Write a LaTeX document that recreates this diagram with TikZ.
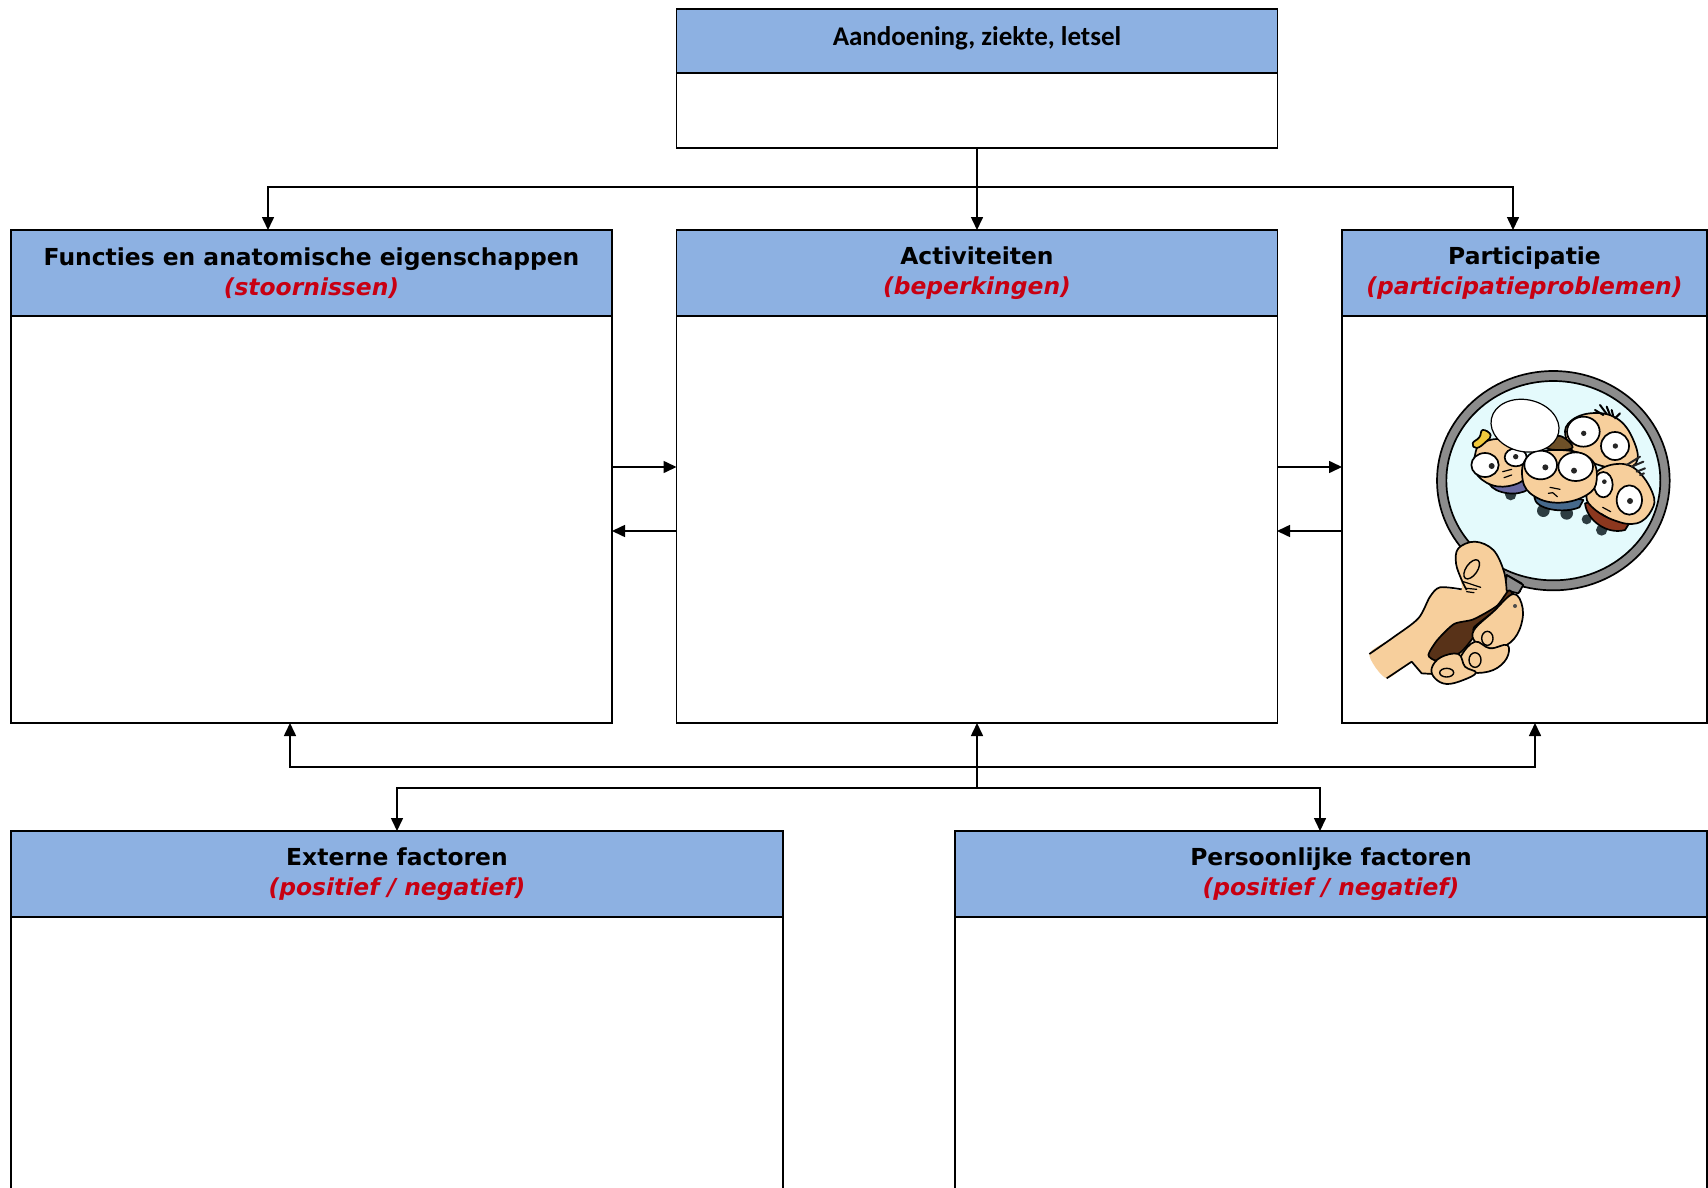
\documentclass[tikz,border=0pt]{standalone}
\usepackage{fontspec}
\setmainfont{DejaVu Sans}
\newfontfamily\topfont{Carlito}
\usetikzlibrary{arrows.meta}
\definecolor{hdrblue}{RGB}{141,177,226}
\definecolor{redtxt}{RGB}{200,0,18}
\definecolor{lens}{RGB}{228,250,252}
\definecolor{ringgray}{RGB}{140,140,140}
\definecolor{skin}{RGB}{247,207,156}
\definecolor{gripbrown}{RGB}{88,50,24}
\definecolor{shirtpurple}{RGB}{104,104,160}
\definecolor{shirtblue}{RGB}{70,105,140}
\definecolor{shirtred}{RGB}{140,55,30}
\definecolor{hairbrown}{RGB}{110,80,40}
\definecolor{hairyellow}{RGB}{240,200,60}
\definecolor{footdark}{RGB}{45,60,65}
\tikzset{
  hdrbox/.style={draw=black,fill=hdrblue,line width=0.8pt,inner sep=0pt,outer sep=0pt,align=center,
     font=\fontsize{11.7}{14.7}\selectfont\bfseries},
  bodybox/.style={draw=black,fill=white,line width=0.8pt,inner sep=0pt,outer sep=0pt},
  conn/.style={draw=black,line width=0.8pt},
  arr/.style={conn,-{Triangle[length=6.5pt,width=6pt]}},
  ink/.style={draw=black,line width=0.85pt,line join=round},
  thin ink/.style={draw=black,line width=0.6pt,line cap=round},
  eye/.style={ink,fill=white},
  pupil/.style={fill=black!85},
}
\newcommand{\rtxt}[1]{{\color{redtxt}\itshape #1}}
\begin{document}
\begin{tikzpicture}[x=0.5pt,y=-0.5pt]
\clip (0,0) rectangle (1708,1188);
% boxes
\node[hdrbox,minimum width=300.5pt,minimum height=32pt,font=\fontsize{13.5}{15}\selectfont\bfseries\topfont] (tophead) at (977,41) {\raisebox{4.6pt}{Aandoening, ziekte, letsel}};
\node[bodybox,minimum width=300.5pt,minimum height=37.5pt] (topbody) at (977,110.5) {};
\node[hdrbox,minimum width=300.5pt,minimum height=43pt] (funchead) at (311.5,273) {Functies en anatomische eigenschappen\\\rtxt{(stoornissen)}};
\node[bodybox,minimum width=300.5pt,minimum height=203.5pt] (funcbody) at (311.5,519.5) {};
\node[hdrbox,minimum width=300.5pt,minimum height=43pt] (acthead) at (977,273) {Activiteiten\\\rtxt{(beperkingen)}};
\node[bodybox,minimum width=300.5pt,minimum height=203.5pt] (actbody) at (977,519.5) {};
\node[hdrbox,minimum width=182.5pt,minimum height=43pt] (parthead) at (1524.5,273) {Participatie\\\rtxt{(participatieproblemen)}};
\node[bodybox,minimum width=182.5pt,minimum height=203.5pt] (partbody) at (1524.5,519.5) {};
\node[hdrbox,minimum width=386pt,minimum height=43pt] (exthead) at (397,874) {Externe factoren\\\rtxt{(positief / negatief)}};
\node[bodybox,minimum width=386pt,minimum height=166.5pt] (extbody) at (397,1083.5) {};
\node[hdrbox,minimum width=376pt,minimum height=43pt] (pershead) at (1331,874) {Persoonlijke factoren\\\rtxt{(positief / negatief)}};
\node[bodybox,minimum width=376pt,minimum height=166.5pt] (persbody) at (1331,1083.5) {};
% connector points
\coordinate (jtop) at (topbody.south |- 0,187);
\coordinate (funcin) at (268,230);
\coordinate (partin) at (1513,230);
\coordinate (jup) at (actbody.south |- 0,767);
\coordinate (jdown) at (actbody.south |- 0,788);
\coordinate (funcup) at (290,723);
\coordinate (partup) at (1535,723);
\coordinate (persin) at (1320,831);
\coordinate (fa1) at (612,467);
\coordinate (af1) at (676.5,467);
\coordinate (af2) at (676.5,531);
\coordinate (fa2) at (612,531);
\coordinate (ap1) at (1277,467);
\coordinate (pa1) at (1342,467);
\coordinate (pa2) at (1342,531);
\coordinate (ap2) at (1277,531);
% connectors
\draw[arr] (topbody.south) -- (acthead.north);
\draw[arr] (jtop) -| (funcin);
\draw[arr] (jtop) -| (partin);
\draw[arr] (fa1) -- (af1);
\draw[arr] (af2) -- (fa2);
\draw[arr] (ap1) -- (pa1);
\draw[arr] (pa2) -- (ap2);
\draw[arr] (jdown) -- (actbody.south);
\draw[arr] (jup) -| (funcup);
\draw[arr] (jup) -| (partup);
\draw[arr] (jdown) -| (exthead.north);
\draw[arr] (jdown) -| (persin);
% magnifying glass
\begin{scope}[shift={(1420,360)},x=0.16667pt,y=-0.16667pt]
  \draw[ink,fill=ringgray] (400,362) ellipse [x radius=349,y radius=329];
  \draw[ink,fill=lens] (400,362) ellipse [x radius=321,y radius=299];
  % left figure
  \fill[footdark] (272,404) circle (17);
  \draw[ink,fill=shirtpurple] (208,372) .. controls (225,402) and (295,410) .. (325,388) -- (300,350) -- cycle;
  \draw[ink,fill=skin] plot[smooth cycle,tension=.7] coordinates {(185,250) (250,240) (310,290) (320,345) (280,375) (215,375) (165,335) (165,285)};
  \draw[ink,fill=hairyellow] plot[smooth cycle,tension=.8] coordinates {(158,250) (178,232) (188,210) (212,225) (198,245) (170,264)};
  \draw[eye] (195,315) ellipse [x radius=41,y radius=36];
  \fill[pupil] (215,318) circle (9);
  \draw[eye] (287,292) ellipse [x radius=33,y radius=27];
  \fill[pupil] (287,290) circle (8);
  \draw[thin ink] (248,335) -- (275,328) (252,353) -- (275,345);
  % top right figure
  \draw[ink,fill=skin] plot[smooth cycle,tension=.7] coordinates {(445,190) (510,160) (590,175) (640,240) (648,310) (580,325) (480,290) (440,240)};
  \draw[thin ink,line width=1pt] (525,150) -- (550,165) (540,135) -- (560,162) (560,140) -- (570,165) (575,150) -- (580,170) (600,160) -- (585,175);
  \draw[eye] (490,215) ellipse [x radius=49,y radius=45];
  \fill[pupil] (491,220) circle (8);
  \draw[eye] (585,258) ellipse [x radius=42,y radius=42];
  \fill[pupil] (586,258) circle (8);
  % lower right figure
  \fill[footdark] (545,510) circle (17);
  \fill[footdark] (500,478) circle (15);
  \draw[ink,fill=shirtred] (495,430) .. controls (500,480) and (560,525) .. (615,510) -- (640,470) -- (540,420) -- cycle;
  \draw[ink,fill=skin] plot[smooth cycle,tension=.7] coordinates {(525,340) (590,312) (650,330) (698,400) (695,450) (650,490) (580,480) (515,440) (500,400)};
  \draw[line width=1pt,draw=black!85,line cap=round] (620,315) -- (660,290) (635,320) -- (670,305) (650,335) -- (675,325) (660,345) -- (672,340);
  \draw[eye] (550,374) ellipse [x radius=28,y radius=38];
  \fill[pupil] (553,365) circle (7);
  \draw[eye] (628,420) ellipse [x radius=38,y radius=44];
  \fill[pupil] (630,423) circle (9);
  \draw[thin ink] (548,442) -- (572,455) (542,460) -- (562,472);
  % centre figure
  \fill[footdark] (370,452) circle (19);
  \fill[footdark] (440,460) circle (19);
  \draw[ink,fill=shirtblue] (343,412) .. controls (345,448) and (430,462) .. (478,442) -- (490,420) -- (400,400) -- cycle;
  \draw[ink,fill=skin] plot[smooth cycle,tension=.7] coordinates {(325,290) (420,270) (510,295) (530,360) (500,405) (420,428) (345,410) (308,360)};
  \draw[ink,fill=hairbrown] plot[smooth cycle,tension=.7] coordinates {(378,262) (405,232) (430,232) (458,262) (420,270)};
  \draw[eye] (362,315) ellipse [x radius=49,y radius=43];
  \fill[pupil] (376,322) circle (9);
  \draw[eye] (467,320) ellipse [x radius=52,y radius=43];
  \fill[pupil] (462,332) circle (9);
  \draw[thin ink] (390,382) -- (420,388) (385,400) -- (398,398) -- (412,410);
  % balloon head
  \draw[ink,fill=white,line width=0.6pt,rotate around={-12:(315,197)}] (315,197) ellipse [x radius=103,y radius=78];
  % handle stub
  \draw[ink,fill=ringgray] (260,645) -- (305,670) -- (300,695) -- (250,690) -- cycle;
\end{scope}
% hand
\begin{scope}[shift={(1350,530)},x=0.16667pt,y=-0.16667pt]
  \draw[ink,fill=ringgray] (470,135) -- (520,165) -- (505,190) -- (465,180) -- cycle;
  % palm and thumb fill
  \fill[skin] plot[smooth cycle,tension=.45] coordinates {(58,372) (130,322) (205,265) (240,200) (270,172) (335,178) (318,100) (325,55) (375,35) (430,60) (462,125) (470,185) (430,240) (300,420) (215,430) (185,395) (110,445)};
  \draw[ink] plot[smooth,tension=.5] coordinates {(58,372) (130,322) (205,265) (240,200) (270,172) (335,178)};
  \draw[ink] plot[smooth,tension=.6] coordinates {(350,180) (335,150) (318,100) (325,55) (375,35) (430,60) (462,125) (470,185)};
  \draw[ink] (110,445) -- (185,395) -- (215,430) -- (250,432);
  % grip
  \draw[ink,fill=gripbrown] plot[smooth cycle,tension=.4] coordinates {(475,182) (440,228) (370,268) (312,282) (262,330) (235,375) (262,392) (330,368) (372,318) (372,292) (432,244) (485,195)};
  % fingers
  \draw[ink,fill=skin] plot[smooth cycle,tension=.65] coordinates {(372,300) (430,245) (490,192) (518,235) (508,300) (470,345) (410,355) (375,335)};
  \draw[ink,fill=skin] plot[smooth cycle,tension=.65] coordinates {(335,375) (375,335) (420,355) (472,345) (470,385) (430,420) (370,428) (335,408)};
  \draw[ink,fill=skin] plot[smooth cycle,tension=.65] coordinates {(245,415) (272,382) (325,372) (345,410) (378,428) (340,450) (290,462) (255,445)};
  % nails
  \draw[thin ink,line width=0.7pt] (412,325) ellipse [x radius=17,y radius=21];
  \draw[thin ink,line width=0.7pt] (375,390) ellipse [x radius=18,y radius=22];
  \draw[thin ink,line width=0.7pt] (290,428) ellipse [x radius=21,y radius=13];
  \draw[thin ink,line width=0.7pt,rotate around={-35:(365,118)}] (365,118) ellipse [x radius=17,y radius=33];
  \draw[thin ink] (340,155) -- (392,172) (350,175) -- (380,178) (350,185) -- (372,188);
  \fill[black!70] (495,228) circle (6);
\end{scope}
\end{tikzpicture}
\end{document}
